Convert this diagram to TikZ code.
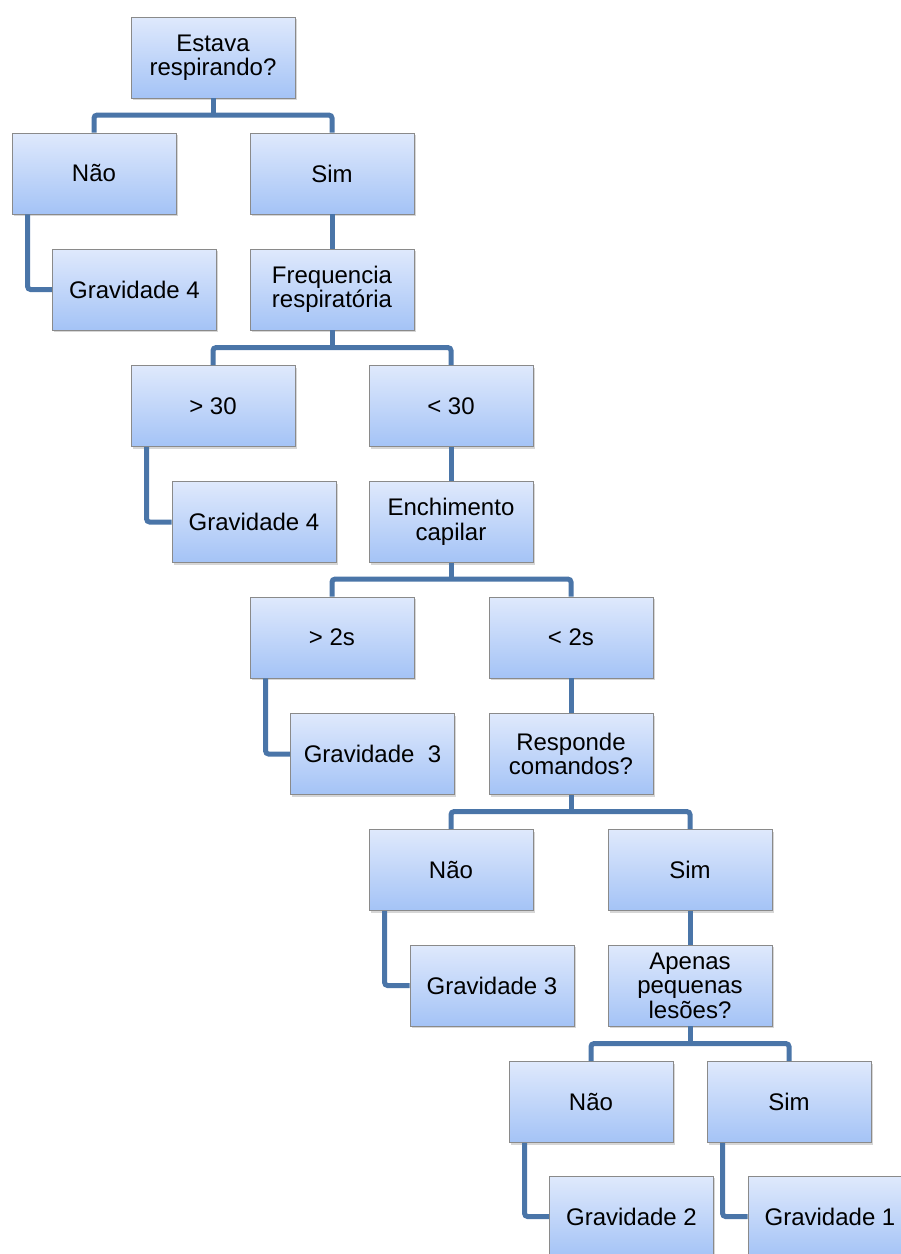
\documentclass[tikz,border=0pt]{standalone}
\usepackage{fontspec}
\setmainfont{Liberation Sans}
\usetikzlibrary{shadows}
\definecolor{boxtop}{RGB}{223,233,252}
\definecolor{boxbot}{RGB}{164,195,246}
\definecolor{boxline}{RGB}{138,138,138}
\definecolor{conncol}{RGB}{74,117,168}
\tikzset{
  box/.style={rectangle, draw=boxline, line width=0.8pt, top color=boxtop, bottom color=boxbot,
    minimum width=164pt, minimum height=81pt, inner sep=2pt, align=center,
    font=\fontsize{24pt}{24.5pt}\selectfont, text=black,
    drop shadow={opacity=0.32, shadow xshift=1.8pt, shadow yshift=-2.2pt}},
  conn/.style={draw=conncol, line width=5pt, rounded corners=3pt},
}
\begin{document}
\begin{tikzpicture}[x=1pt,y=-1pt]
\path[use as bounding box, clip] (0,0) rectangle (901,1254);
\fill[white] (0,0) rectangle (901,1254);
% nodes
\node[box] (top) at (213,57.5) {Estava\\respirando?};
\node[box] (n1) at (94,173.5) {Não};
\node[box] (s1) at (332,173.5) {Sim};
\node[box] (g1) at (134.5,289.5) {Gravidade 4};
\node[box] (f1) at (332,289.5) {Frequencia\\respiratória};
\node[box] (n2) at (213,406) {> 30};
\node[box] (s2) at (451,406) {< 30};
\node[box] (g2) at (254,522) {Gravidade 4};
\node[box] (f2) at (451,522) {Enchimento\\capilar};
\node[box] (n3) at (332,637.5) {> 2s};
\node[box] (s3) at (571,637.5) {< 2s};
\node[box] (g3) at (372.5,754) {Gravidade\ \ 3};
\node[box] (f3) at (571,754) {Responde\\comandos?};
\node[box] (n4) at (451,870) {Não};
\node[box] (s4) at (690,870) {Sim};
\node[box] (g4) at (492,985.5) {Gravidade 3};
\node[box] (f4) at (690,985.5) {Apenas\\pequenas\\lesões?};
\node[box] (n5) at (591,1102) {Não};
\node[box] (s5) at (789,1102) {Sim};
\node[box] (g5) at (631.5,1216.5) {Gravidade 2};
\node[box] (g6) at (830,1216.5) {Gravidade 1};
% connectors parent -> children
\foreach \p/\a/\b in {top/n1/s1, f1/n2/s2, f2/n3/s3, f3/n4/s4, f4/n5/s5}{
  \draw[conn] (\a.north) -- ++(0,-17.5) -| (\b.north);
  \draw[conn] (\p.south) -- ++(0,17.5);
}
\draw[conn] (s1.south) -- (f1.north);
\draw[conn] (s2.south) -- (f2.north);
\draw[conn] (s3.south) -- (f3.north);
\draw[conn] (s4.south) -- (f4.north);
% leaf connectors
\foreach \a/\b in {n1/g1, n2/g2, n3/g3, n4/g4, n5/g5, s5/g6}{
  \draw[conn] ([xshift=16pt]\a.south west) |- (\b.west);
}
\end{tikzpicture}
\end{document}
